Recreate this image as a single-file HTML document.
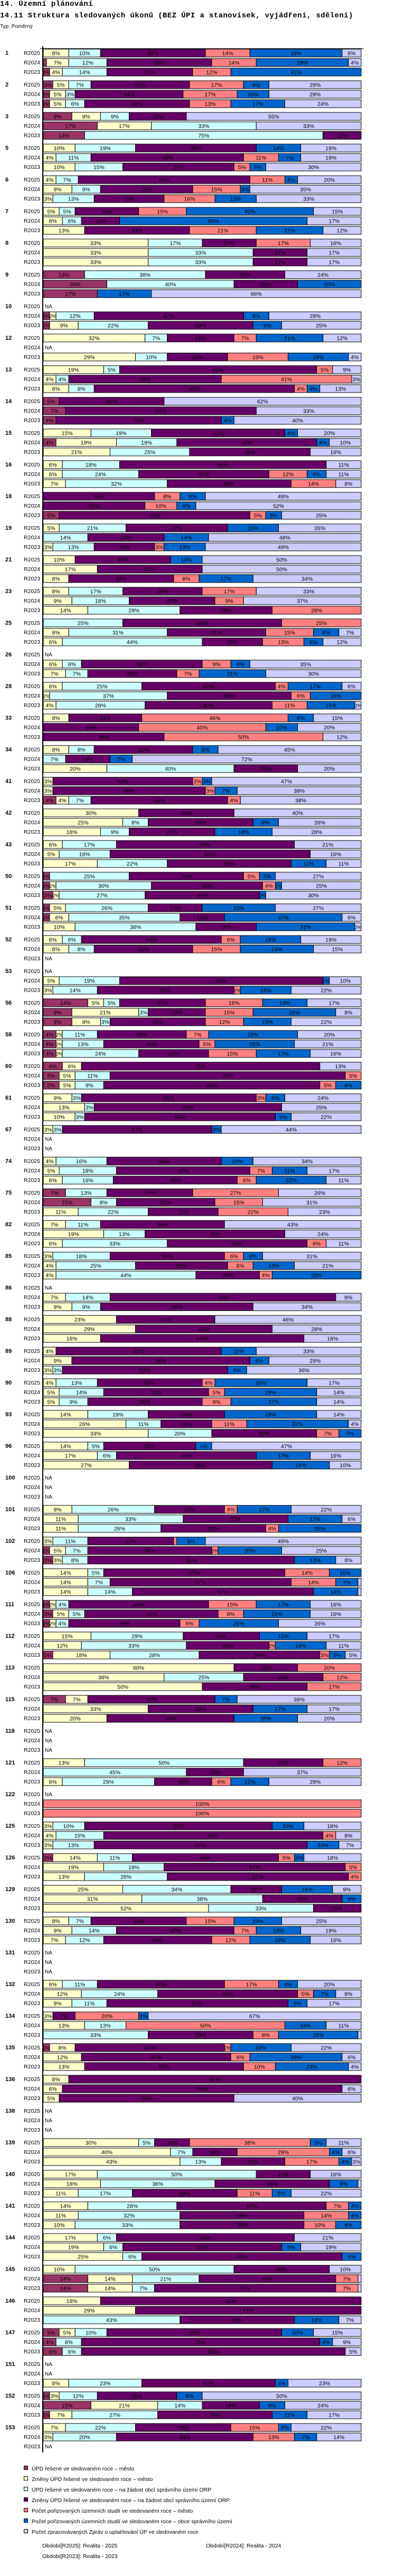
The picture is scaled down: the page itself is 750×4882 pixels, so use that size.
<!DOCTYPE html>
<html><head><meta charset="utf-8">
<style>
html,body{margin:0;padding:0;background:#fff;width:750px;height:4882px;overflow:hidden}
#h1{position:absolute;left:0;top:0;font:bold 14px "Liberation Mono",monospace;letter-spacing:0.4px;white-space:nowrap}
#h2{position:absolute;left:0;top:22px;font:bold 14px "Liberation Mono",monospace;letter-spacing:0.4px;white-space:nowrap}
#typ{position:absolute;left:0;top:45px;font:10px "Liberation Sans",sans-serif}
svg{position:absolute;left:0;top:0}
</style></head><body>
<div id="h1">14. Územní plánování</div>
<div id="h2">14.11 Struktura sledovaných úkonů (BEZ ÚPI a stanovisek, vyjádření, sdělení)</div>
<div id="typ">Typ: Poměrný</div>
<svg id="chart" width="750" height="4882"></svg>
<script>
const groups=["1","2","3","5","6","7","8","9","10","12","13","14","15","16","18","19","21","23","25","26","28","33","34","41","42","43","50","51","52","53","56","58","60","61","67","74","75","82","85","86","88","89","90","93","96","100","101","102","106","111","112","113","115","118","121","122","125","126","129","130","131","132","134","135","136","138","139","140","141","144","145","146","147","151","152","153"];
const periods=["R2025","R2024","R2023"];
const seriesNames=["ÚPD řešené ve sledovaném roce – město","Změny ÚPD řešené ve sledovaném roce – město","ÚPD řešené ve sledovaném roce – na žádost obcí správního území ORP","Změny ÚPD řešené ve sledovaném roce – na žádost obcí správního území ORP","Počet pořizovaných územních studií ve sledovaném roce – město","Počet pořizovaných územních studií ve sledovaném roce – obce správního území","Počet zpracovávaných Zpráv o uplatňování ÚP ve sledovaném roce"];
const seriesColors=["#993366","#FFFFCC","#CCFFFF","#660066","#FF8080","#0066CC","#CCCCFF"];
const values=[
[[0,8,10,33,14,29,6],[1,7,12,33,14,29,4],[2,4,14,27,12,41,0]],
[[3,5,7,31,17,8,29],[2,5,3,34,17,10,29],[2,5,6,33,13,17,24]],
[[9,9,9,18,0,0,55],[17,17,33,0,0,0,33],[13,0,75,12,0,0,0]],
[[0,10,19,38,0,14,19],[0,4,11,48,11,7,19],[0,10,15,35,5,5,30]],
[[0,4,7,54,11,4,20],[0,9,9,29,15,3,35],[0,3,13,22,16,13,33]],
[[0,5,5,20,15,40,15],[0,6,6,12,0,59,17],[0,13,0,33,21,21,12]],
[[0,33,17,17,17,0,16],[0,33,33,17,0,0,17],[0,33,33,17,0,0,17]],
[[13,0,38,25,0,0,24],[20,0,40,20,0,20,0],[17,0,0,0,0,17,66]],
[null,[2,2,12,47,0,8,29],[2,9,22,33,0,9,25]],
[[0,32,7,21,7,21,12],null,[0,29,10,19,19,19,4]],
[[0,19,5,62,5,0,9],[0,4,4,48,41,0,3],[0,8,8,63,4,4,13]],
[[5,0,0,33,0,0,62],[7,0,0,60,0,0,33],[4,0,0,52,0,4,40]],
[[0,15,19,42,0,4,20],[4,19,19,44,0,4,10],[0,21,25,38,0,0,16]],
[[0,6,18,65,0,0,11],[0,6,24,41,12,6,11],[0,7,32,39,14,0,8]],
[[0,0,0,35,8,8,49],[0,0,0,32,10,6,52],[5,0,0,60,5,5,25]],
[[0,5,21,32,0,16,26],[0,0,14,24,0,14,48],[0,3,13,19,3,13,49]],
[[0,10,0,30,0,10,50],[0,17,0,33,0,0,50],[0,8,0,33,8,17,34]],
[[0,8,17,25,17,0,33],[0,9,18,27,9,0,37],[0,14,29,29,28,0,0]],
[[0,0,25,50,25,0,0],[0,8,31,31,15,8,7],[0,6,44,19,13,6,12]],
[null,[0,6,6,38,9,6,35],[0,7,7,28,7,21,30]],
[[0,6,25,42,4,17,6],[0,2,37,39,6,16,0],[0,4,28,40,11,15,2]],
[[0,8,0,23,46,8,15],[0,0,0,30,40,10,20],[0,0,0,38,50,0,12]],
[[0,8,8,31,0,8,45],[0,0,7,14,0,7,72],[0,20,40,20,0,0,20]],
[[0,3,0,44,3,3,47],[0,3,0,48,3,7,39],[4,4,7,43,4,0,38]],
[[0,30,0,30,0,0,40],[0,25,8,33,0,8,26],[0,18,9,27,0,18,28]],
[[0,6,17,56,0,0,21],[0,5,16,63,0,0,16],[0,17,22,39,0,11,11]],
[[2,0,25,36,5,5,27],[2,2,30,35,4,2,25],[3,2,27,36,0,2,30]],
[[2,5,26,17,0,23,27],[2,6,35,14,0,37,6],[0,10,38,19,0,31,2]],
[[0,6,6,44,6,19,19],[0,8,8,31,15,23,15],null],
[null,[0,5,19,64,0,2,10],[0,3,14,43,2,16,22]],
[[14,5,5,27,18,14,17],[9,21,3,18,15,26,8],[9,9,3,30,12,15,22]],
[[4,2,11,28,7,28,20],[4,2,13,30,5,25,21],[4,2,24,22,15,17,16]],
[[6,6,0,75,0,0,13],[5,5,11,74,5,0,0],[5,5,9,68,5,8,0]],
[[0,9,3,55,3,6,24],[0,13,3,59,0,0,25],[0,10,3,60,0,5,22]],
[[0,3,3,47,0,3,44],null,null],
[[0,4,16,36,0,10,34],[0,5,18,42,7,11,17],[0,6,16,39,6,22,11]],
[[7,0,13,27,27,0,26],[15,0,8,31,15,0,31],[0,11,22,22,22,0,23]],
[[0,7,11,39,0,0,43],[0,19,13,44,0,0,24],[0,6,33,44,6,0,11]],
[[0,3,18,36,6,6,31],[0,4,25,29,8,13,21],[0,4,44,20,4,28,0]],
[null,[0,7,14,71,0,0,8],[0,9,9,48,0,0,34]],
[[0,23,0,31,0,0,46],[0,29,0,43,0,0,28],[0,18,0,64,0,0,18]],
[[0,4,0,52,0,11,33],[0,9,0,56,0,6,29],[0,3,3,52,0,6,36]],
[[0,4,13,33,4,29,17],[0,5,14,33,5,29,14],[0,5,9,36,9,27,14]],
[[0,14,19,24,0,29,14],[0,26,11,16,11,32,4],[0,33,20,33,7,7,0]],
[[0,14,5,29,0,5,47],[0,17,6,44,0,17,16],[0,27,0,45,0,18,10]],
[null,null,null],
[[0,9,26,22,4,17,22],[0,11,33,33,0,17,6],[0,11,26,33,4,26,0]],
[[0,3,11,27,1,9,49],[2,5,7,39,2,20,25],[3,3,8,65,0,13,8]],
[[0,14,5,57,14,10,0],[0,14,7,57,14,7,1],[0,14,14,57,0,14,1]],
[[2,2,4,44,15,17,16],[3,5,5,42,8,21,16],[2,2,4,35,6,25,26]],
[[0,15,29,24,0,15,17],[0,12,33,26,2,16,11],[3,18,28,38,3,5,5]],
[[0,60,0,20,20,0,0],[0,38,25,25,12,0,0],[0,50,0,33,17,0,0]],
[[7,7,0,40,0,7,39],[0,33,0,33,0,17,17],[0,20,0,40,0,20,20]],
[null,null,null],
[[0,13,50,25,12,0,0],[0,0,45,18,0,0,37],[0,6,29,18,6,12,29]],
[null,[0,0,0,0,100,0,0],[0,0,0,0,100,0,0]],
[[0,3,10,59,0,10,18],[0,4,15,69,4,0,8],[0,3,13,67,0,10,7]],
[[3,14,11,46,5,3,18],[0,19,19,57,5,0,0],[0,13,26,57,4,0,0]],
[[0,25,34,16,0,16,9],[0,31,38,25,0,6,0],[0,52,33,15,0,0,0]],
[[0,8,7,30,15,15,25],[0,9,14,37,7,14,19],[0,7,12,34,12,19,16]],
[null,null,null],
[[0,6,11,40,17,6,20],[0,12,24,44,5,7,8],[0,9,11,57,0,6,17]],
[[0,3,0,7,20,3,67],[0,13,13,0,50,13,11],[0,0,33,33,8,25,1]],
[[2,8,0,47,2,19,22],[0,12,0,47,6,29,6],[0,13,0,50,10,23,4]],
[[0,8,0,92,0,0,0],[0,6,0,88,0,0,6],[0,5,0,55,0,0,40]],
[null,null,null],
[[0,30,5,11,38,5,11],[0,40,7,14,29,4,6],[0,43,13,20,17,4,3]],
[[0,17,50,17,0,0,16],[0,18,36,36,0,9,1],[0,11,17,33,11,6,22]],
[[0,14,28,47,7,4,0],[0,11,32,39,14,4,0],[0,10,33,39,10,8,0]],
[[0,17,6,56,0,0,21],[0,19,6,50,0,6,19],[0,25,6,63,0,6,0]],
[[0,10,50,30,0,0,10],[14,14,21,43,7,0,1],[14,14,7,57,7,0,1]],
[[0,18,0,82,0,0,0],[0,29,0,71,0,0,0],[0,0,43,36,0,14,7]],
[[5,5,10,55,0,10,15],[4,0,8,75,0,4,9],[6,0,6,83,0,0,5]],
[null,null,[0,8,23,42,0,4,23]],
[[2,3,12,25,0,8,50],[15,21,14,18,0,8,24],[2,7,27,36,0,11,17]],
[[0,7,22,30,15,4,22],[0,3,20,43,13,7,14],null]
];
const periodNotes=["Období[R2025]: Realita - 2025","Období[R2024]: Realita - 2024","Období[R2023]: Realita - 2023"];

const NS="http://www.w3.org/2000/svg";
const svg=document.getElementById('chart');
const X0=82, XW=602, TOP=93, GP=60, RP=18, BH=15;
function xScale(frac){return X0+frac*XW;}
function yRow(gi,ri){return TOP+gi*GP+ri*RP;}
function mk(tag,attrs,parent){const e=document.createElementNS(NS,tag);for(const k in attrs)e.setAttribute(k,attrs[k]);(parent||svg).appendChild(e);return e;}
const LF='"Liberation Sans",sans-serif';

groups.forEach((g,gi)=>{
  const gl=mk('text',{x:10,y:yRow(gi,0)+11,'font-family':LF,'font-size':11,'font-weight':'bold'});
  gl.textContent=g;
  
  
  periods.forEach((p,ri)=>{
    const y=yRow(gi,ri);
    const pl=mk('text',{x:76,y:y+11,'text-anchor':'end','font-family':LF,'font-size':10.5});
    pl.textContent=p;
    
    
    const vals=values[gi][ri];
    if(!vals){
      const na=mk('text',{x:85,y:y+11,'font-family':LF,'font-size':10});
      na.textContent='NA';
      
      
      return;
    }
    const tot=vals.reduce((a,b)=>a+b,0);
    let acc=0;
    vals.forEach((v,si)=>{
      if(!v)return;
      const x1=xScale(acc/tot), x2=xScale((acc+v)/tot);
      acc+=v;
      const r=mk('rect',{x:x1,y:y,width:Math.max(x2-x1,0.5),height:BH,fill:seriesColors[si],stroke:'#000','stroke-width':1});
      
      
      const w=x2-x1;
      if(w>=8){
        const t=mk('text',{x:(x1+x2)/2,y:y+11.5,'text-anchor':'middle','font-family':LF,'font-size':w<14?9:10.5,fill:'#000'});
        t.textContent=v+'%';
        
        
      }
    });
  });
});
const yEnd=yRow(groups.length-1,2)+BH+4;
const ax=mk('line',{x1:81,y1:88,x2:81,y2:yEnd,stroke:'#000','stroke-width':2});


const tk=mk('line',{x1:76,y1:92,x2:689,y2:92,stroke:'#000','stroke-width':1});



const LY=4673;
seriesNames.forEach((n,i)=>{
  const sw=mk('rect',{x:45.5,y:LY+i*20+0.5,width:7,height:7,fill:seriesColors[i],stroke:'#000','stroke-width':1});
  
  
  const t=mk('text',{x:60,y:LY+i*20+9,'font-family':LF,'font-size':10.5});
  t.textContent=n;
  
  
});
[[80,4828,0],[390,4828,1],[80,4848,2]].forEach(([x,y,i])=>{
  const t=mk('text',{x:x,y:y,'font-family':LF,'font-size':10.5});
  t.textContent=periodNotes[i];
  
  
});
</script>
</body></html>
